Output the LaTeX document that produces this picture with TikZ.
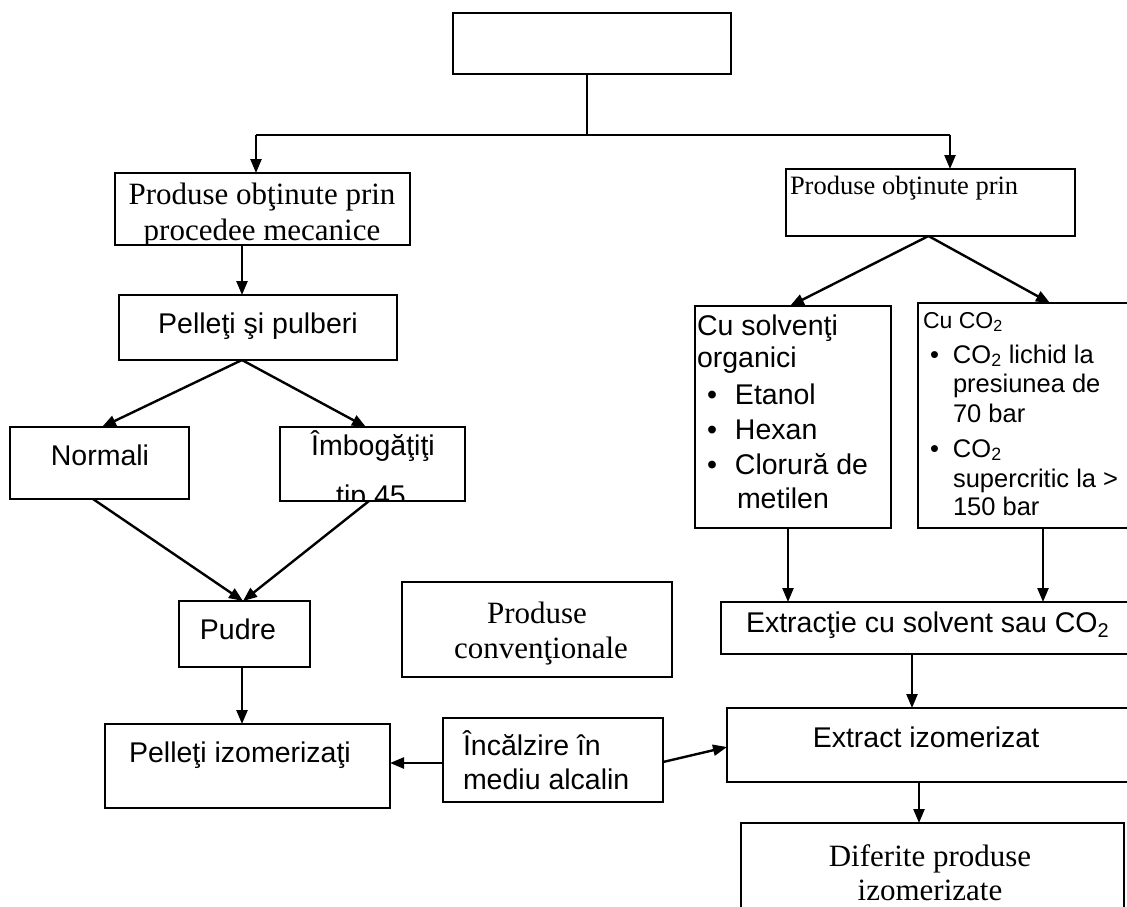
\documentclass[tikz,border=0pt]{standalone}
\usepackage{fontspec}
\setmainfont{Liberation Serif}
\newfontfamily\arialf{Liberation Sans}
\usetikzlibrary{arrows.meta}
\newcommand\bulbox[1]{\makebox[#1][l]{\textbullet}}
\begin{document}
\begin{tikzpicture}[x=1pt,y=-1pt,
  box/.style={draw, line width=1.9pt, inner sep=0pt, outer sep=0pt, anchor=north west},
  arr/.style={line width=2.4pt, -{Triangle[length=14pt,width=11pt]}},
  ln/.style={line width=2.2pt},
  txt/.style={inner sep=0pt, outer sep=0pt},
  ser/.style={txt, font=\fontsize{31}{37}\selectfont},
  sers/.style={txt, font=\fontsize{26.5}{31}\selectfont},
  san/.style={txt, font=\arialf\fontsize{28.5}{34}\selectfont},
  sanc/.style={txt, font=\arialf\fontsize{25.5}{30}\selectfont},
  sanh/.style={txt, font=\arialf\fontsize{23}{28}\selectfont}
]
\useasboundingbox (0,0) rectangle (1127,906);
\clip (0,0) rectangle (1127,906);

% boxes
\node[box, minimum width=278pt, minimum height=61pt] (top) at (453,13) {};
\node[box, minimum width=295pt, minimum height=72pt] (mech) at (115,173) {};
\node[box, minimum width=289pt, minimum height=67pt] (chem) at (786,169) {};
\node[box, minimum width=278pt, minimum height=65pt] (pel) at (119,295) {};
\node[box, minimum width=179pt, minimum height=72pt] (norm) at (10,427) {};
\node[box, minimum width=185pt, minimum height=74pt] (imb) at (280,427) {};
\node[box, minimum width=131pt, minimum height=66pt] (pud) at (179,601) {};
\node[box, minimum width=270pt, minimum height=95pt] (conv) at (402,582) {};
\node[box, minimum width=196pt, minimum height=222pt] (solv) at (695,306) {};
\node[box, minimum width=264pt, minimum height=225pt] (co2) at (918,303) {};
\node[box, minimum width=420pt, minimum height=52pt] (extr) at (721,602) {};
\node[box, minimum width=420pt, minimum height=74pt] (extiz) at (727,708) {};
\node[box, minimum width=383pt, minimum height=110pt] (dif) at (741,823) {};
\node[box, minimum width=285pt, minimum height=84pt] (pizo) at (105,724) {};
\node[box, minimum width=220pt, minimum height=84pt] (heat) at (443,718) {};

% texts
\begin{scope}
\clip (mech.north west) rectangle (mech.south east);
\node[ser, anchor=base] (mech1) at (262,204) {Produse obţinute prin};
\node[ser, anchor=base] (mech2) at (262,240) {procedee mecanice};
\end{scope}
\node[sers, anchor=base west] (chem1) at (790,194) {Produse obţinute prin};
\node[san, anchor=base] (pel1) at (258,333) {Pelleţi şi pulberi};
\node[san, anchor=base] (norm1) at (100,465) {Normali};
\node[san, anchor=base] (imb1) at (373,455) {Îmbogăţiţi};
\begin{scope}
\clip (imb.north west) rectangle (imb.south east);
\node[san, anchor=base] (imb2) at (371,505) {tip 45};
\end{scope}
\node[san, anchor=base] (pud1) at (238,639) {Pudre};
\node[ser, anchor=base] (conv1) at (537,623) {Produse};
\node[ser, anchor=base] (conv2) at (541,658) {convenţionale};
\node[san, anchor=base] (pizo1) at (240,762) {Pelleţi izomerizaţi};
\node[san, anchor=base west] (heat1) at (463,755) {Încălzire în};
\node[san, anchor=base west] (heat2) at (463,789) {mediu alcalin};

\node[san, anchor=base west] (s1) at (697,335) {Cu solvenţi};
\node[san, anchor=base west] (s2) at (697,367) {organici};
\node[san, anchor=base west] (s3) at (707,404) {\bulbox{28pt}Etanol};
\node[san, anchor=base west] (s4) at (707,439) {\bulbox{28pt}Hexan};
\node[san, anchor=base west] (s5) at (707,474) {\bulbox{28pt}Clorură de};
\node[san, anchor=base west] (s6) at (737,508) {metilen};

\node[sanh, anchor=base west] (c1) at (923,328) {Cu CO\textsubscript{2}};
\node[sanc, anchor=base west] (c2) at (930,363) {\bulbox{23pt}CO\textsubscript{2} lichid la};
\node[sanc, anchor=base west] (c3) at (953,392) {presiunea de};
\node[sanc, anchor=base west] (c4) at (953,422) {70 bar};
\node[sanc, anchor=base west] (c5) at (930,457) {\bulbox{23pt}CO\textsubscript{2}};
\node[sanc, anchor=base west] (c6) at (953,487) {supercritic la >};
\node[sanc, anchor=base west] (c7) at (953,515) {150 bar};

\node[san, anchor=base west] (e1) at (746,632) {Extracţie cu solvent sau CO\textsubscript{2}};
\node[san, anchor=base] (x1) at (926,747) {Extract izomerizat};
\node[ser, anchor=base] (d1) at (930,866) {Diferite produse};
\node[ser, anchor=base] (d2) at (930,900) {izomerizate};

% connectors
\coordinate (split) at (587,135);
\coordinate (jl) at (256,135);
\coordinate (jr) at (950,135);
\draw[ln, line width=1.6pt] ([xshift=-5pt]top.south) -- (split);
\draw[ln] (jl) -- (jr);
\draw[arr] (jl) -- (jl |- mech.north);
\draw[arr] (jr) -- (jr |- chem.north);
\draw[arr] ([xshift=-20.5pt]mech.south) -- ([xshift=-16pt]pel.north);
\draw[arr] ([xshift=-16pt]pel.south) -- ([xshift=2.5pt]norm.north);
\draw[arr] ([xshift=-16pt]pel.south) -- ([xshift=-6.5pt]imb.north);
\draw[arr] ([xshift=-6.5pt]norm.south) -- ([xshift=-1.5pt]pud.north);
\draw[arr] ([xshift=-3.5pt]imb.south) -- ([xshift=-1.5pt]pud.north);
\draw[arr] ([xshift=-2.5pt]pud.south) -- ([xshift=-2.5pt]pud.south |- pizo.north);
\draw[arr] ([yshift=-3pt]heat.west) -- ([yshift=-3pt]heat.west -| pizo.east);
\draw[arr] ([yshift=-2pt]heat.east) -- ([yshift=-2pt]extiz.west);
\draw[arr] ([xshift=-2pt]chem.south) -- ([xshift=-3pt]solv.north);
\draw[arr] ([xshift=-2pt]chem.south) -- (co2.north);
\draw[arr] ([xshift=-5pt]solv.south) -- ([xshift=-5pt]solv.south |- extr.north);
\draw[arr] ([xshift=-7pt]co2.south) -- ([xshift=-7pt]co2.south |- extr.north);
\draw[arr] ([xshift=-19pt]extr.south) -- ([xshift=-19pt]extr.south |- extiz.north);
\draw[arr] ([xshift=-18pt]extiz.south) -- ([xshift=-18pt]extiz.south |- dif.north);
\end{tikzpicture}
\end{document}
